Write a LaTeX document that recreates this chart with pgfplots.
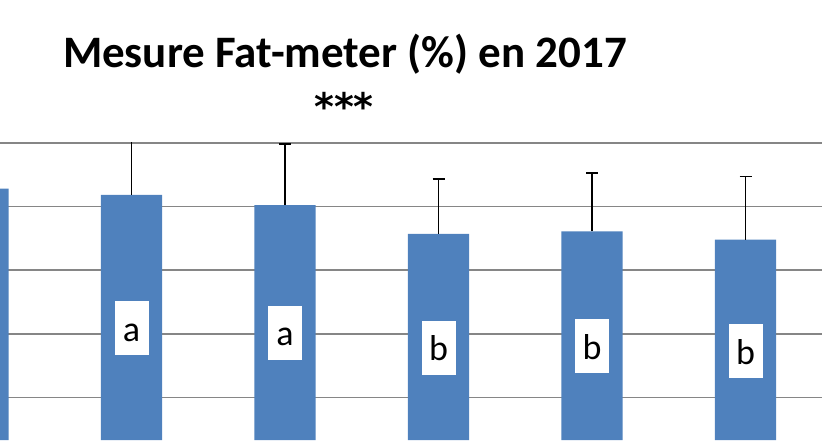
\documentclass[border=0pt]{standalone}
\usepackage{fontspec}
\setmainfont{Carlito}
\newfontfamily\starfont{DejaVu Sans}
\usepackage{pgfplots}
\pgfplotsset{compat=1.18}
\definecolor{barblue}{RGB}{79,129,189}
\definecolor{gridgray}{RGB}{134,134,134}

\begin{document}
\begin{tikzpicture}
\useasboundingbox (0,0) rectangle (411pt,220pt);
\begin{axis}[
  at={(0,0)}, anchor=south west,
  scale only axis, width=411pt, height=148.65pt,
  xmin=0.143, xmax=5.498, ymin=5.336, ymax=10,
  ytick={6,7,8,9,10}, xtick=\empty, yticklabels={},
  ymajorgrids, major grid style={gridgray, line width=0.8pt},
  axis line style={draw=none}, major tick length=0pt,
  ybar, bar width=30.6pt,
  clip=true, clip marker paths=true,
]
\addplot[fill=barblue, draw=none,
  error bars/.cd, y dir=plus, y explicit,
  error bar style={black, line width=0.85pt},
  error mark options={black, rotate=90, mark size=3pt, line width=0.85pt}]
  table[x=x, y=y, y error=e] {
  x y e
  0 9.28 1.00
  1 9.18 1.00
  2 9.02 0.96
  3 8.57 0.86
  4 8.61 0.91
  5 8.48 0.99
};
\tikzset{lbl/.style={fill=white, minimum width=17pt, inner xsep=0pt, inner ysep=5pt,
  text height=15pt, text depth=2pt, font=\fontsize{18}{18}\selectfont}}
\node[lbl] at (axis cs:1,7.093) {a};
\node[lbl] at (axis cs:2,7.015) {a};
\node[lbl] at (axis cs:3,6.78) {b};
\node[lbl] at (axis cs:4,6.81) {b};
\node[lbl] at (axis cs:5,6.73) {b};
\end{axis}
\node[anchor=base, font=\fontsize{22.5}{22.5}\selectfont\bfseries] at (172.5pt,186pt) {Mesure Fat-meter (\%) en 2017};
\node[anchor=base, font=\starfont\fontsize{19}{19}\selectfont\bfseries] at (172pt,160pt) {***};
\end{tikzpicture}
\end{document}
